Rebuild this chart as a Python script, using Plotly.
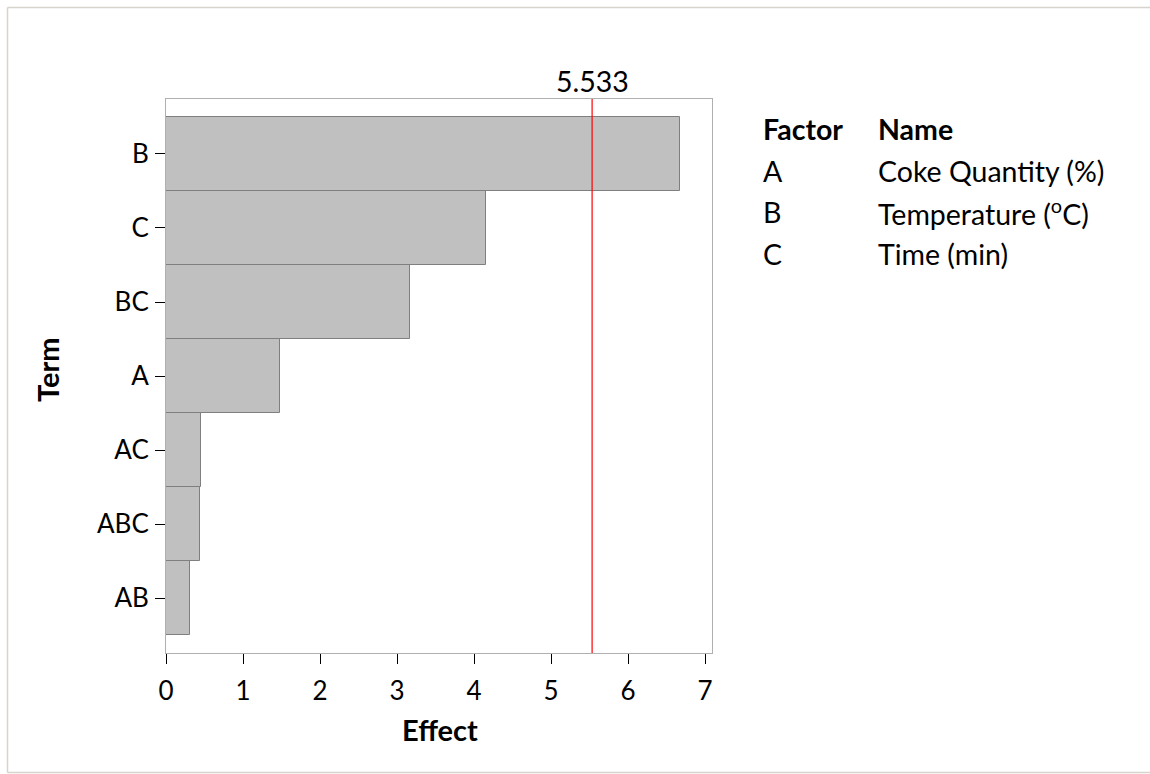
import plotly.graph_objects as go

terms = ["AB", "ABC", "AC", "A", "BC", "C", "B"]
effects = [0.31, 0.44, 0.46, 1.48, 3.17, 4.16, 6.68]
ref_value = 5.533
ref_label = "5.533"
factors = ["A", "B", "C"]
factor_names = ["Coke Quantity (%)", "Temperature (<sup>o</sup>C)", "Time (min)"]

FONT = "Lato, 'Open Sans', sans-serif"
TICK = 26
TXT = 28.5
TITLE = 29

fig = go.Figure()
fig.add_trace(go.Bar(
    x=effects, y=terms, orientation="h",
    marker=dict(color="#c0c0c0", line=dict(color="#7f7f7f", width=1)),
    width=1, showlegend=False, hoverinfo="x+y",
))

fig.add_shape(type="line", xref="x", yref="paper", x0=ref_value, x1=ref_value,
              y0=0, y1=1, line=dict(color="#ff0000", width=1.2))
fig.add_annotation(x=ref_value, xref="x", y=1, yref="paper", text=ref_label,
                   showarrow=False, yanchor="bottom", yshift=-1,
                   font=dict(family=FONT, size=TXT, color="#000"))


def px2x(px):
    return (px - 166) / 546


def py2y(py):
    return (653 - py) / 554


# outer frame (top, left, bottom edges; right edge lies outside the picture)
frame = dict(color="#d6d4cc", width=1.5)
fig.add_shape(type="line", xref="paper", yref="paper", x0=px2x(7.5), x1=px2x(1150),
              y0=py2y(7.5), y1=py2y(7.5), line=frame, layer="below")
fig.add_shape(type="line", xref="paper", yref="paper", x0=px2x(7.5), x1=px2x(1150),
              y0=py2y(772.5), y1=py2y(772.5), line=frame, layer="below")
fig.add_shape(type="line", xref="paper", yref="paper", x0=px2x(7.5), x1=px2x(7.5),
              y0=py2y(772.5), y1=py2y(7.5), line=frame, layer="below")

# axis titles
fig.add_annotation(x=px2x(440), y=py2y(729), xref="paper", yref="paper",
                   text="<b>Effect</b>", showarrow=False, xanchor="center", yanchor="middle",
                   font=dict(family=FONT, size=TITLE, color="#000"))
fig.add_annotation(x=px2x(47), y=py2y(370), xref="paper", yref="paper",
                   text="<b>Term</b>", showarrow=False, xanchor="center", yanchor="middle",
                   textangle=-90, font=dict(family=FONT, size=TITLE, color="#000"))

# factor table
rows_y = [129, 171, 212, 254]
fig.add_annotation(x=px2x(761), y=py2y(rows_y[0]), xref="paper", yref="paper",
                   text="<b>Factor</b>", showarrow=False, xanchor="left", yanchor="middle",
                   font=dict(family=FONT, size=TXT, color="#000"))
fig.add_annotation(x=px2x(876), y=py2y(rows_y[0]), xref="paper", yref="paper",
                   text="<b>Name</b>", showarrow=False, xanchor="left", yanchor="middle",
                   font=dict(family=FONT, size=TXT, color="#000"))
for f, n, yy in zip(factors, factor_names, rows_y[1:]):
    fig.add_annotation(x=px2x(761), y=py2y(yy), xref="paper", yref="paper",
                       text=f, showarrow=False, xanchor="left", yanchor="middle",
                       font=dict(family=FONT, size=TXT, color="#000"))
    fig.add_annotation(x=px2x(876), y=py2y(yy), xref="paper", yref="paper",
                       text=n, showarrow=False, xanchor="left", yanchor="middle",
                       font=dict(family=FONT, size=TXT, color="#000"))

fig.update_layout(
    width=1150, height=774,
    margin=dict(l=166, r=438, t=99, b=121),
    paper_bgcolor="white", plot_bgcolor="white",
    bargap=0,
    font=dict(family=FONT, size=TICK, color="#000"),
    xaxis=dict(range=[0, 7.09], tickmode="array", tickvals=list(range(8)),
               ticks="outside", ticklen=10, tickcolor="#000", tickwidth=1,
               showgrid=False, zeroline=False, showline=True, linecolor="#b0b0b0",
               mirror=True, tickfont=dict(size=TICK), ticklabelstandoff=5),
    yaxis=dict(range=[-0.743, 6.743], categoryorder="array", categoryarray=terms,
               ticks="outside", ticklen=10, tickcolor="#000", tickwidth=1,
               showgrid=False, zeroline=False, showline=True, linecolor="#b0b0b0",
               mirror=True, tickfont=dict(size=TICK), ticklabelstandoff=1),
)

fig.write_html("out.html")
